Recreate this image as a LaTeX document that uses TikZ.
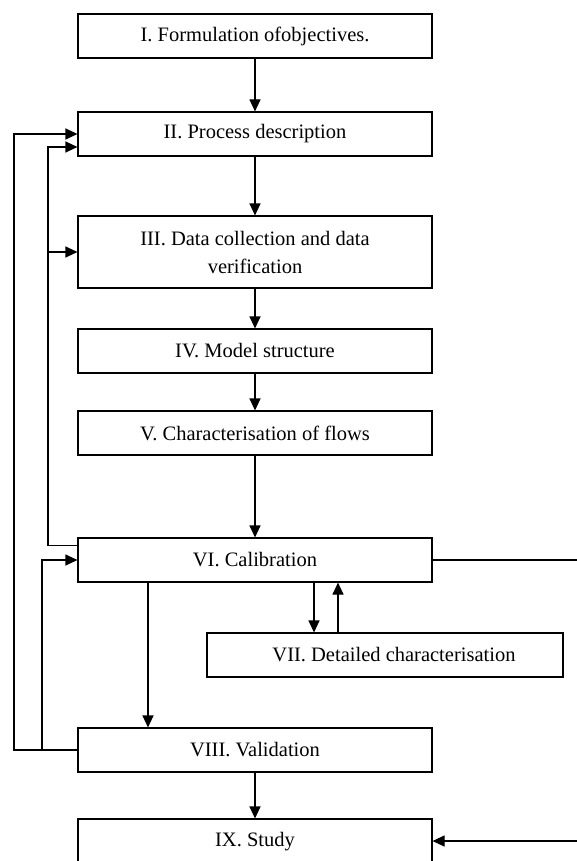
\documentclass[tikz,border=0pt]{standalone}
\usepackage{fontspec}
\setmainfont{Liberation Serif}
\usetikzlibrary{arrows.meta,positioning}

\begin{document}
\begin{tikzpicture}[x=1pt, y=-1pt, line width=1.1pt,
    >={Triangle[length=12pt,width=11pt]},
    stage/.style={draw, minimum width=354pt, minimum height=44pt, inner sep=2pt,
        font=\fontsize{20.5}{28}\selectfont, align=center},
    flow/.style={->}]
    \useasboundingbox (0,0) rectangle (577,861);

    % main column
    \node[stage] (I) at (255,36) {I. Formulation ofobjectives.};
    \node[stage] (II) at (255,134) {II. Process description};
    \node[stage, minimum height=72pt] (III) at (255,252) {III. Data collection and data\\verification};
    \node[stage] (IV) at (255,351) {IV. Model structure};
    \node[stage] (V) at (255,433) {V. Characterisation of flows};
    \node[stage] (VI) at (255,560) {VI. Calibration};
    \node[stage, minimum width=356pt] (VII) at (385,655) {\hspace*{18pt}VII. Detailed characterisation};
    \node[stage] (VIII) at (255,750) {VIII. Validation};
    \node[stage, minimum height=46pt] (IX) at (255,842) {IX. Study};

    % helper coordinates
    \coordinate (outer) at (14,0);
    \coordinate (inner) at (48,0);
    \coordinate (back) at (42,0);
    \coordinate (down) at (314,0);
    \coordinate (up) at (338,0);
    \coordinate (skip) at (148,0);
    \coordinate (rtop) at (577,560);
    \coordinate (rbot) at (577,841);

    % straight flow
    \draw[flow] (I) -- (II);
    \draw[flow] (II) -- (III);
    \draw[flow] (III) -- (IV);
    \draw[flow] (IV) -- (V);
    \draw[flow] (V) -- (VI);
    \draw[flow] (VIII) -- (IX);
    \draw[flow] (VI.south -| down) -- (VII.north -| down);
    \draw[flow] (VII.north -| up) -- (VI.south -| up);
    \draw[flow] (VI.south -| skip) -- (VIII.north -| skip);

    % feedback loops
    \draw[flow] (VIII.west) -- (VIII.west -| outer) |- (II.west);
    \draw[flow] ([yshift=-8pt]VI.north west) -- ([yshift=-8pt]VI.north west -| inner)
        |- ([yshift=-13pt]II.west);
    \draw[flow] (III.west -| inner) -- (III.west);
    \draw[flow] (VIII.west -| back) |- (VI.west);

    % right side
    \draw (VI.east) -- (rtop);
    \draw[flow] (rbot) -- (rbot -| IX.east);
\end{tikzpicture}
\end{document}
